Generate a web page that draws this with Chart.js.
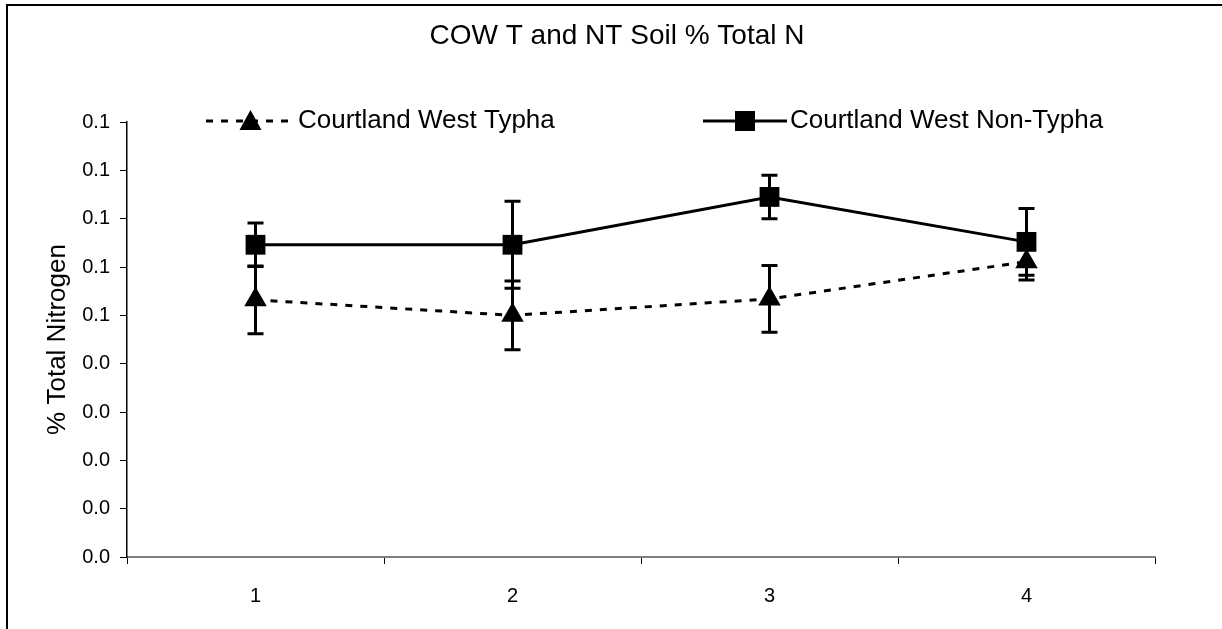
<!DOCTYPE html>
<html>
<head>
<meta charset="utf-8">
<script src="https://cdn.jsdelivr.net/npm/chart.js@4.4.0/dist/chart.umd.min.js"></script>
<style>
    html, body { margin: 0; padding: 0; background: #fff; overflow: hidden; }
    #frame { position: absolute; left: 6px; top: 4px; width: 1400px; height: 800px;
             border-left: 2px solid #000; border-top: 2px solid #000; }
    #wrap { position: absolute; left: 0; top: 0; width: 1222px; height: 629px; }
</style>
</head>
<body>
<div id="frame"></div>
<div id="wrap"><canvas id="nitrogenChart" width="1222" height="629"></canvas></div>
<script>
// sample sites along the x axis
const sites = ['1', '2', '3', '4'];

// % total N
const typha = [0.0532, 0.0500, 0.0534, 0.0611];
const typhaErr = [0.0070, 0.0071, 0.0069, 0.0038];
const nonTypha = [0.0646, 0.0646, 0.0745, 0.0652];
const nonTyphaErr = [0.0045, 0.0090, 0.0045, 0.0069];

// the original axis shows one decimal only
const yTicks = ['0.0', '0.0', '0.0', '0.0', '0.0', '0.1', '0.1', '0.1', '0.1', '0.1'];

const FONT = '"Liberation Sans", Arial, sans-serif';

function drawMarker(ctx, style, x, y) {
    ctx.beginPath();
    if (style === 'triangle') {
        ctx.moveTo(x, y - 11);
        ctx.lineTo(x + 11, y + 9);
        ctx.lineTo(x - 11, y + 9);
        ctx.closePath();
    } else {
        ctx.rect(x - 10, y - 10, 20, 20);
    }
    ctx.fill();
}

// Excel style error bars with caps
const errorBars = {
    id: 'errorBars',
    beforeDatasetsDraw(chart) {
        const ctx = chart.ctx;
        const yScale = chart.scales.y;
        ctx.save();
        ctx.strokeStyle = '#000';
        ctx.lineWidth = 3;
        chart.data.datasets.forEach((ds, i) => {
            const meta = chart.getDatasetMeta(i);
            meta.data.forEach((pt, j) => {
                const v = ds.data[j];
                const e = ds.errors[j];
                const top = yScale.getPixelForValue(v + e);
                const bot = yScale.getPixelForValue(v - e);
                ctx.beginPath();
                ctx.moveTo(pt.x, top);
                ctx.lineTo(pt.x, bot);
                ctx.moveTo(pt.x - 8, top);
                ctx.lineTo(pt.x + 8, top);
                ctx.moveTo(pt.x - 8, bot);
                ctx.lineTo(pt.x + 8, bot);
                ctx.stroke();
            });
        });
        ctx.restore();
    }
};

// title and line+marker legend, placed like the original
const headings = {
    id: 'headings',
    afterDraw(chart) {
        const ctx = chart.ctx;
        ctx.save();
        ctx.fillStyle = '#000';
        ctx.textBaseline = 'middle';
        ctx.textAlign = 'center';
        ctx.font = '28px ' + FONT;
        ctx.fillText('COW T and NT Soil % Total N', 617, 36);

        const spots = [{ x0: 206, x1: 295 }, { x0: 703, x1: 787 }];
        chart.data.datasets.forEach((ds, i) => {
            const s = spots[i];
            const y = 121;
            ctx.strokeStyle = '#000';
            ctx.lineWidth = 3;
            ctx.setLineDash(ds.borderDash || []);
            ctx.beginPath();
            ctx.moveTo(s.x0, y);
            ctx.lineTo(s.x1, y);
            ctx.stroke();
            ctx.setLineDash([]);
            drawMarker(ctx, ds.pointStyle, (s.x0 + s.x1) / 2, y);
            ctx.textAlign = 'left';
            ctx.font = '26px ' + FONT;
            ctx.fillText(ds.label, s.x1 + 3, y);
        });
        ctx.restore();
    }
};

const ctx = document.getElementById('nitrogenChart').getContext('2d');

new Chart(ctx, {
    type: 'line',
    data: {
        labels: sites,
        datasets: [
            {
                label: 'Courtland West Typha',
                data: typha,
                errors: typhaErr,
                borderColor: '#000',
                backgroundColor: '#000',
                borderWidth: 3,
                borderDash: [7, 8],
                pointStyle: 'triangle',
                pointRadius: 13,
                pointBorderWidth: 0,
                pointBackgroundColor: '#000'
            },
            {
                label: 'Courtland West Non-Typha',
                data: nonTypha,
                errors: nonTyphaErr,
                borderColor: '#000',
                backgroundColor: '#000',
                borderWidth: 3,
                pointStyle: 'rect',
                pointRadius: 14,
                pointBorderWidth: 0,
                pointBackgroundColor: '#000'
            }
        ]
    },
    options: {
        responsive: false,
        animation: false,
        layout: { padding: { top: 122, right: 67, bottom: 0, left: 0 } },
        plugins: {
            legend: { display: false },
            title: { display: false },
            tooltip: { enabled: false }
        },
        scales: {
            x: {
                offset: true,
                grid: { offset: true, drawOnChartArea: false, tickLength: 7, color: '#000', lineWidth: 1 },
                border: { color: '#808080', width: 2 },
                ticks: { color: '#000', padding: 20, font: { family: FONT, size: 20 } },
                afterFit: s => { s.height = 72; }
            },
            y: {
                min: 0,
                max: 0.09,
                grid: { drawOnChartArea: false, tickLength: 7, color: '#000', lineWidth: 1 },
                border: { color: '#000', width: 1.5 },
                ticks: {
                    stepSize: 0.01,
                    color: '#000',
                    padding: 10,
                    font: { family: FONT, size: 20 },
                    callback: (v, i) => yTicks[i]
                },
                title: {
                    display: true,
                    text: '% Total Nitrogen',
                    color: '#000',
                    font: { family: FONT, size: 26 },
                    padding: { top: 42, bottom: 0 }
                },
                afterFit: s => { s.width = 127; }
            }
        }
    },
    plugins: [errorBars, headings]
});
</script>
</body>
</html>
